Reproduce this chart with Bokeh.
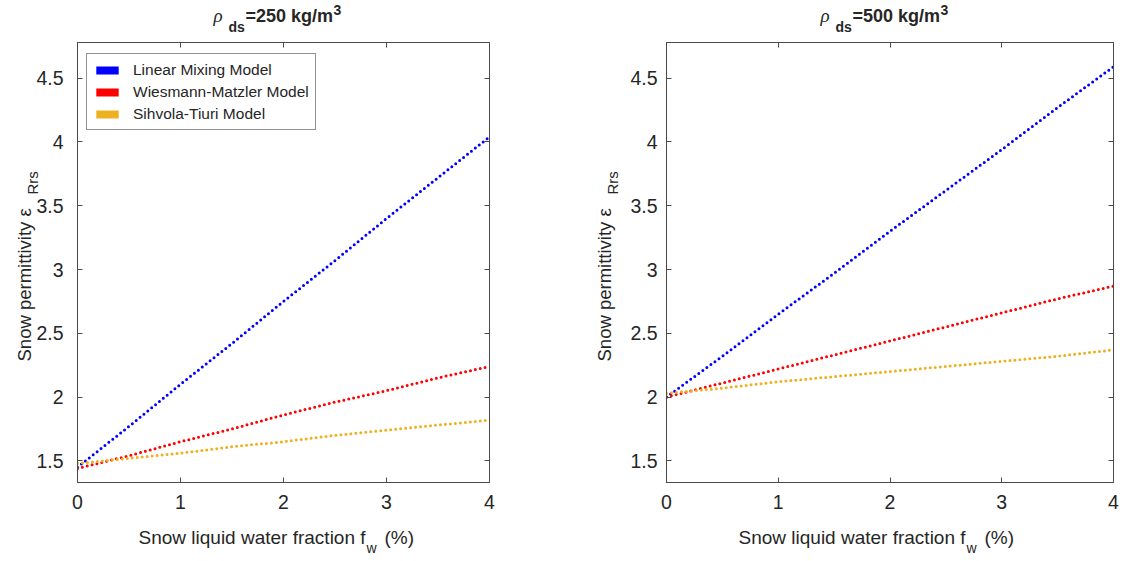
from bokeh.plotting import figure
from bokeh.models import (Range1d, FixedTicker, LinearAxis, Label, Legend, LegendItem,
                          ColumnDataSource, CustomJSTickFormatter, GridBox)
from bokeh.layouts import row, column
from bokeh.embed import file_html
from bokeh.resources import INLINE

# ---------------- data ----------------
fw = [0, 0.5, 1, 1.5, 2, 2.5, 3, 3.5, 4]
series_names = ["Linear Mixing Model", "Wiesmann-Matzler Model", "Sihvola-Tiuri Model"]
series_colors = ["#0000FF", "#FF0000", "#EDB120"]

lin_250 = [1.45, 1.77, 2.10, 2.42, 2.75, 3.07, 3.40, 3.72, 4.04]
wm_250 = [1.44, 1.54, 1.65, 1.75, 1.86, 1.96, 2.05, 2.15, 2.24]
st_250 = [1.48, 1.52, 1.56, 1.61, 1.65, 1.70, 1.74, 1.78, 1.82]

lin_500 = [2.00, 2.32, 2.65, 2.97, 3.30, 3.62, 3.94, 4.27, 4.59]
wm_500 = [2.00, 2.11, 2.22, 2.33, 2.44, 2.55, 2.66, 2.77, 2.87]
st_500 = [2.03, 2.07, 2.12, 2.16, 2.20, 2.24, 2.28, 2.32, 2.37]

densities = ["250", "500"]
x_ticks = [0, 1, 2, 3, 4]
x_tick_labels = ["0", "1", "2", "3", "4"]
y_ticks = [1.5, 2, 2.5, 3, 3.5, 4, 4.5]
y_tick_labels = ["1.5", "2", "2.5", "3", "3.5", "4", "4.5"]
x_range = (0, 4)
y_range = (1.33, 4.78)

FONT = "Liberation Sans"
TXT = "#262626"
AXC = "#4a4a4a"
W, H = 1126, 561
NAN = float("nan")


def style_axis(ax, ticks, labels, standoff, show):
    ax.ticker = FixedTicker(ticks=ticks)
    ax.major_tick_in = 5
    ax.major_tick_out = 0
    ax.minor_tick_in = 0
    ax.minor_tick_out = 0
    ax.axis_line_color = AXC
    ax.major_tick_line_color = AXC
    ax.axis_line_width = 1
    if show:
        ax.major_label_overrides = {t: l for t, l in zip(ticks, labels)}
        ax.major_label_text_font = FONT
        ax.major_label_text_font_size = "19.5px"
        ax.major_label_text_color = TXT
        ax.major_label_standoff = standoff
    else:
        ax.formatter = CustomJSTickFormatter(code="return ''")
        ax.major_label_standoff = 0
        ax.major_label_text_font_size = "1px"


def make_panel(series, left, fwidth, right, ytick_standoff, legend_on):
    p = figure(frame_width=fwidth, frame_height=440,
               min_border_left=left, min_border_right=right,
               min_border_top=42, min_border_bottom=79,
               x_range=Range1d(*x_range), y_range=Range1d(*y_range),
               output_backend="svg", toolbar_location=None, tools="",
               background_fill_color="white", border_fill_color="white")
    p.xgrid.visible = False
    p.ygrid.visible = False
    p.outline_line_color = AXC
    p.outline_line_width = 1

    style_axis(p.xaxis[0], x_ticks, x_tick_labels, 12, True)
    style_axis(p.yaxis[0], y_ticks, y_tick_labels, ytick_standoff, True)
    top = LinearAxis()
    style_axis(top, x_ticks, x_tick_labels, 0, False)
    p.add_layout(top, "above")
    rgt = LinearAxis()
    style_axis(rgt, y_ticks, y_tick_labels, 0, False)
    p.add_layout(rgt, "right")

    for vals, c in zip(series, series_colors):
        p.line(fw, vals, line_color=c, line_width=3, line_dash="0 5", line_cap="round")

    if legend_on:
        items = []
        for name, c in zip(series_names, series_colors):
            # legend-only swatch: a single NaN quad, never drawn in the frame
            src = ColumnDataSource(data=dict(l=[NAN], r=[NAN], t=[NAN], b=[NAN]))
            r = p.quad(left="l", right="r", top="t", bottom="b", source=src,
                       fill_color=c, line_color=None)
            items.append(LegendItem(label=name, renderers=[r]))
        leg = Legend(items=items, location=(9, 352), margin=0, padding=6, spacing=3,
                     glyph_width=28, glyph_height=10, label_standoff=12, label_height=19,
                     label_text_font=FONT, label_text_font_size="15.5px",
                     label_text_color=TXT, border_line_color=TXT, border_line_width=1,
                     background_fill_color="white", background_fill_alpha=1)
        p.add_layout(leg)
    return p


p1 = make_panel([lin_250, wm_250, st_250], 77, 412, 71, 14, True)
p2 = make_panel([lin_500, wm_500, st_500], 106, 447, 13, 9, False)

# transparent overlay (whole canvas) carrying the titles and axis titles
ov = figure(width=W, height=H, x_range=Range1d(0, W), y_range=Range1d(H, 0),
            min_border_left=0, min_border_right=0, min_border_top=0, min_border_bottom=0,
            x_axis_location=None, y_axis_location=None,
            output_backend="svg", toolbar_location=None, tools="",
            background_fill_color=None, border_fill_color=None, outline_line_color=None)
ov.xgrid.visible = False
ov.ygrid.visible = False

SHIFT = 0.42  # measured offset of rendered baseline, in em


def lab(x, y, text, size, style="normal", rotated=False, font=FONT):
    s = SHIFT * size
    if rotated:
        x, angle = x - s, 1.5708
    else:
        y, angle = y - s, 0
    ov.add_layout(Label(x=x, y=y, text=text, text_font=font, text_font_size=f"{size}px",
                        text_font_style=style, text_color=TXT, angle=angle,
                        text_align="left", text_baseline="alphabetic"))


for dx, dens in zip([0, 607], densities):
    # title: rho_ds = NNN kg/m^3
    lab(213 + dx, 23, "\u03c1", 19, "italic", font="Liberation Serif")
    lab(228 + dx, 32, "ds", 14, "bold")
    lab(245 + dx, 23, "=" + dens + " kg/m", 18, "bold")
    lab(333 + dx, 15, "3", 14, "bold")

for dx in [0, 600]:
    # x label: Snow liquid water fraction f_w (%)
    lab(138 + dx, 545, "Snow liquid water fraction f", 19)
    lab(366 + dx, 553, "w", 14)
    lab(384 + dx, 545, "(%)", 19)

for bx in [32, 612]:
    # y label: Snow permittivity eps_Rrs (rotated)
    lab(bx, 361, "Snow permittivity \u03b5", 18.5, rotated=True)
    lab(bx + 6, 194, "Rrs", 15, rotated=True)

grid = GridBox(children=[(row(p1, p2), 0, 0), (column(ov), 0, 0)])
open("out.html", "w").write(file_html(grid, INLINE))
